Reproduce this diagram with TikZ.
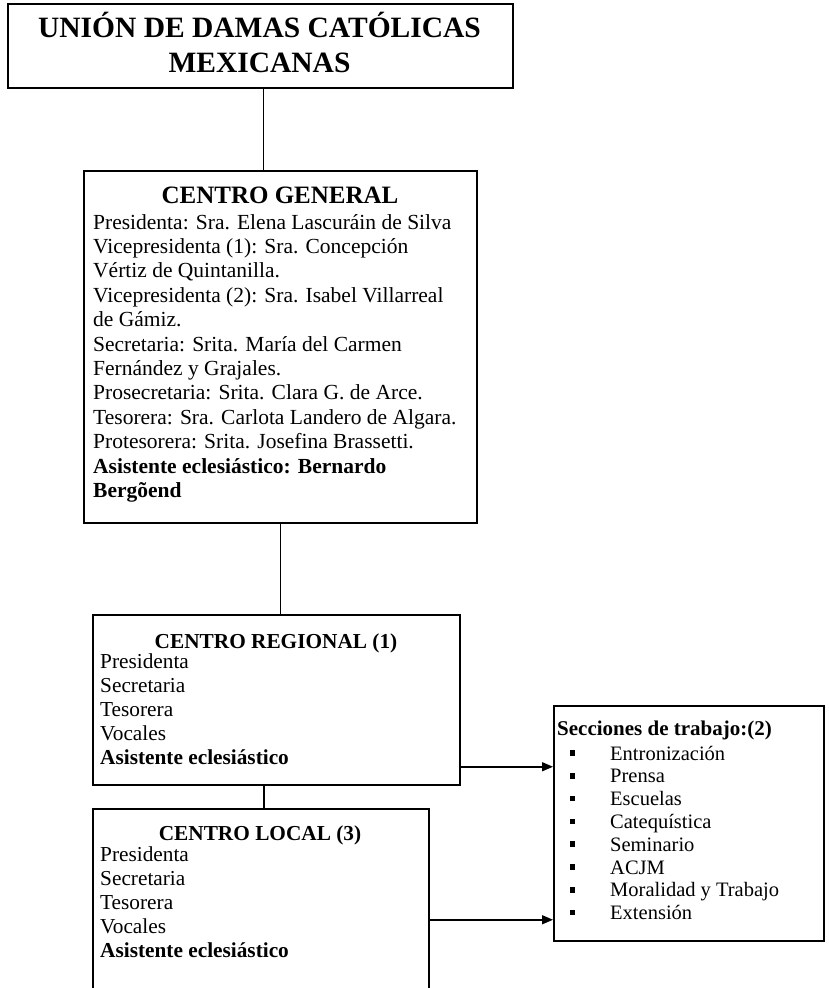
\documentclass[tikz,border=0pt]{standalone}
\usepackage{fontspec}
\setmainfont{Liberation Serif}
\usetikzlibrary{arrows.meta}
\begin{document}
\begin{tikzpicture}[x=1pt,y=-1pt,
  box/.style={draw, line width=1.5pt, inner sep=0pt, anchor=north west},
  txt/.style={inner sep=0pt, anchor=base west},
  ctxt/.style={inner sep=0pt, anchor=base},
  link/.style={line width=1.5pt},
  arr/.style={line width=1.5pt, -{Triangle[length=11pt,width=9pt]}},
  bul/.style={fill, inner sep=0pt, minimum width=5pt, minimum height=5.5pt},
  body/.style={font=\fontsize{21.5}{24}\selectfont},
  big/.style={font=\fontsize{21.3}{24}\selectfont},
  bigb/.style={font=\fontsize{21.3}{24}\selectfont\bfseries},
  small/.style={font=\fontsize{20.5}{23}\selectfont},
  smallb/.style={font=\fontsize{21}{23}\selectfont\bfseries}]
\useasboundingbox (0,0) rectangle (829,988);
\fill[white] (0,0) rectangle (829,988);

% title
\node[box, minimum width=505pt, minimum height=84pt] (title) at (7,3) {};
\node[ctxt, font=\fontsize{29.5}{35}\selectfont\bfseries] (t1) at (259.5,37) {UNIÓN DE DAMAS CATÓLICAS};
\node[ctxt, font=\fontsize{29.5}{35}\selectfont\bfseries] (t2) at (259.5,72) {MEXICANAS};

% centro general
\node[box, minimum width=393pt, minimum height=352pt] (central) at (83,170) {};
\node[ctxt, font=\fontsize{25}{28}\selectfont\bfseries] (cg) at (280,203) {CENTRO GENERAL};
\foreach \t [count=\i] in {
  Presidenta: Sra. Elena Lascuráin de Silva,
  Vicepresidenta (1): Sra. Concepción,
  Vértiz de Quintanilla.,
  Vicepresidenta (2): Sra. Isabel Villarreal,
  de Gámiz.,
  Secretaria: Srita. María del Carmen,
  Fernández y Grajales.,
  Prosecretaria: Srita. Clara G. de Arce.,
  Tesorera: Sra. Carlota Landero de Algara.,
  Protesorera: Srita. Josefina Brassetti.,
  \textbf{Asistente eclesiástico: Bernardo},
  \textbf{Bergõend}}
  \node[txt, body] (g\i) at (93,{229+24.4*(\i-1)}) {\t};

% centro regional
\node[box, minimum width=367pt, minimum height=170pt] (regional) at (92,614) {};
\node[ctxt, bigb] (rt) at (276,648) {CENTRO REGIONAL (1)};
\foreach \t [count=\i] in {Presidenta, Secretaria, Tesorera, Vocales, \textbf{Asistente eclesiástico}}
  \node[txt, big] (r\i) at (100,{668+24.2*(\i-1)}) {\t};

% centro local
\node[box, minimum width=336pt, minimum height=192pt] (local) at (92,808) {};
\node[ctxt, bigb] (lt) at (260,840) {CENTRO LOCAL (3)};
\foreach \t [count=\i] in {Presidenta, Secretaria, Tesorera, Vocales, \textbf{Asistente eclesiástico}}
  \node[txt, big] (l\i) at (100,{861+24.1*(\i-1)}) {\t};

% secciones
\node[box, minimum width=270pt, minimum height=235pt] (secc) at (553,705) {};
\node[txt, smallb] (st) at (557,735) {Secciones de trabajo:(2)};
\foreach \t [count=\i] in {Entronización, Prensa, Escuelas, Catequística, Seminario, ACJM, Moralidad y Trabajo, Extensión}{
  \node[txt, small] (s\i) at (610,{760+22.8*(\i-1)}) {\t};
  \node[bul] (b\i) at (572,{753+22.8*(\i-1)}) {};
}

% connectors
\draw[link] ([xshift=3pt]title.south) -- ([xshift=3pt]title.south |- central.north);
\draw[link] (central.south) -- (central.south |- regional.north);
\draw[link] ([xshift=-12.5pt]regional.south) -- ([xshift=-12.5pt]regional.south |- local.north);
\draw[arr] ([yshift=-67pt]regional.east) -- ([yshift=-67pt]regional.east -| secc.west);
\draw[arr] ([yshift=-15pt]local.east) -- ([yshift=-15pt]local.east -| secc.west);
\end{tikzpicture}
\end{document}
